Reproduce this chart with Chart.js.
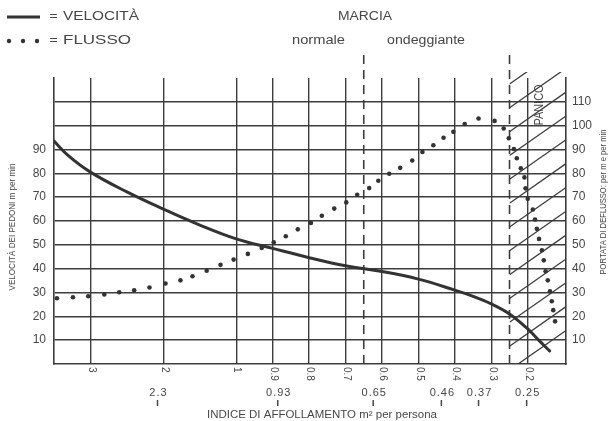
<!DOCTYPE html>
<html>
<head>
<meta charset="utf-8">
<script src="https://cdn.jsdelivr.net/npm/chart.js@4.4.1/dist/chart.umd.min.js"></script>
<style>
  html, body { margin: 0; padding: 0; background: #fff; }
</style>
</head>
<body>
<canvas id="chart" width="611" height="421"></canvas>
<script>
// asse x: indice di affollamento, m2 per persona
const xTicks = [3, 2, 1, 0.9, 0.8, 0.7, 0.6, 0.5, 0.4, 0.3, 0.2]
const xTickLabels = ['3', '2', '1', '0.9', '0.8', '0.7', '0.6', '0.5', '0.4', '0.3', '0.2']
const serviceLabels = ['2.3', '0.93', '0.65', '0.46', '0.37', '0.25']
const serviceAt = [2.08, 0.886, 0.624, 0.437, 0.335, 0.203]
const limitsAt = [0.65, 0.25] // tratteggi: normale / ondeggiante, panico
const leftTicks = [10, 20, 30, 40, 50, 60, 70, 80, 90]
const rightTicks = [10, 20, 30, 40, 50, 60, 70, 80, 90, 100, 110]

// velocita (linea continua)
const speedIndex = [3.5, 3.3, 3, 2.5, 2, 1.5, 1, 0.9, 0.8, 0.7, 0.6, 0.5, 0.4, 0.35, 0.3, 0.25, 0.2, 0.17, 0.14]
const speedValues = [93.5, 87.3, 80.5, 72.2, 65, 58.3, 52.5, 48.5, 44.6, 41.2, 38.8, 35.6, 31, 28.4, 25.2, 21, 14.7, 10, 5.5]

// flusso (punti)
const flowIndex = [3.46, 3.24, 3.03, 2.81, 2.605, 2.4, 2.19, 1.97, 1.765, 1.6, 1.405, 1.215, 1.035,
  0.968, 0.93, 0.897, 0.864, 0.831, 0.795, 0.765, 0.731, 0.698, 0.668, 0.635, 0.61, 0.58, 0.55,
  0.517, 0.489, 0.459, 0.431, 0.404, 0.373, 0.335, 0.291, 0.266, 0.252, 0.238, 0.23, 0.219,
  0.209, 0.206, 0.2, 0.186, 0.18, 0.175, 0.169, 0.161, 0.156, 0.151, 0.145, 0.139, 0.134, 0.13, 0.125]
const flowValues = [27.6, 28, 28.4, 29.2, 30.1, 30.9, 32.1, 33.8, 35.1, 36.8, 39.1, 41.6, 43.8,
  46.2, 48.7, 51.1, 53.6, 56.5, 59.2, 62.2, 65.2, 67.8, 71, 73.8, 76.9, 79.8, 82.3,
  85.4, 89, 91.8, 94.9, 97.4, 100.7, 103, 102, 98.8, 94.7, 90.2, 86.3, 82.1,
  78.3, 73.7, 69.3, 64.8, 60.6, 56.7, 52.5, 47.7, 43.5, 38.9, 35.1, 30.5, 26.3, 22.6, 17.9]

const INK = '#3d3d3d'
const TEXT = '#474747'
const FONT = '"Liberation Sans", Arial, sans-serif'

// scala a tratti: 1..3 compressa, 0.2..1 lineare
const toPos = v => v > 1 ? (1 - v) * 2 : (1 - v) * 10

function fitText(ctx, text, x, y, width, size, rot, align) {
  ctx.save()
  ctx.font = `${size}px ${FONT}`
  const w = ctx.measureText(text).width
  ctx.translate(x, y)
  if (rot) ctx.rotate(rot)
  ctx.scale(width / w, 1)
  ctx.textAlign = align || 'center'
  ctx.textBaseline = 'middle'
  ctx.fillText(text, 0, 0)
  ctx.restore()
}

const decor = {
  id: 'decor',
  beforeDatasetsDraw(chart) {
    const { ctx, chartArea: a, scales: { x, y } } = chart
    const xl = x.getPixelForValue(toPos(limitsAt[1]))

    // tratteggio zona panico
    ctx.save()
    ctx.beginPath()
    ctx.rect(xl, a.top - 6, a.right - xl, a.bottom - a.top + 6)
    ctx.clip()
    ctx.strokeStyle = INK
    ctx.lineWidth = 1.3
    for (let v = 0; v <= 150; v += 10) {
      const y0 = y.getPixelForValue(v) + 6
      ctx.beginPath()
      ctx.moveTo(xl, y0)
      ctx.lineTo(a.right + 2, y0 - 0.7 * (a.right + 2 - xl))
      ctx.stroke()
    }
    ctx.restore()

    // linee tratteggiate
    ctx.save()
    ctx.strokeStyle = INK
    ctx.lineWidth = 1.6
    ctx.setLineDash([9, 6])
    limitsAt.forEach(v => {
      const px = x.getPixelForValue(toPos(v))
      ctx.beginPath()
      ctx.moveTo(px, 55)
      ctx.lineTo(px, a.bottom)
      ctx.stroke()
    })
    ctx.restore()

    // PANICO
    ctx.save()
    ctx.fillStyle = TEXT
    fitText(ctx, 'PANICO', 540, 105, 41, 12, -Math.PI / 2)
    ctx.restore()
  },
  afterDraw(chart) {
    const { ctx, chartArea: a, scales: { x } } = chart
    ctx.save()
    ctx.fillStyle = TEXT
    ctx.strokeStyle = TEXT

    // etichette asse x ruotate
    ctx.font = `10px ${FONT}`
    ctx.textAlign = 'left'
    ctx.textBaseline = 'middle'
    xTicks.forEach((v, i) => {
      const px = x.getPixelForValue(toPos(v))
      ctx.save()
      ctx.translate(px + 1, a.bottom + 3)
      ctx.rotate(Math.PI / 2)
      ctx.fillText(xTickLabels[i], 0, 0)
      ctx.restore()
    })

    // seconda riga
    ctx.font = `11px ${FONT}`
    ctx.letterSpacing = '1px'
    ctx.textAlign = 'center'
    ctx.lineWidth = 1.5
    serviceAt.forEach((v, i) => {
      const px = x.getPixelForValue(toPos(v))
      ctx.fillText(serviceLabels[i], px + 1, 393)
      ctx.beginPath()
      ctx.moveTo(px, 400)
      ctx.lineTo(px, 406)
      ctx.stroke()
    })
    ctx.letterSpacing = '0px'

    fitText(ctx, 'INDICE DI AFFOLLAMENTO m² per persona', 322, 415, 230, 10)
    fitText(ctx, 'VELOCITÀ DEI PEDONI m per min', 12.5, 227, 127, 9, -Math.PI / 2)
    fitText(ctx, 'PORTATA DI DEFLUSSO: per m e per min', 604, 202, 145, 9, -Math.PI / 2)

    // legenda
    ctx.strokeStyle = '#333'
    ctx.lineWidth = 3
    ctx.beginPath()
    ctx.moveTo(7, 17)
    ctx.lineTo(40, 17)
    ctx.stroke()
    ctx.fillStyle = '#333';
    [9, 23, 37].forEach(cx => {
      ctx.beginPath()
      ctx.arc(cx, 41, 2.2, 0, Math.PI * 2)
      ctx.fill()
    })
    ctx.fillStyle = TEXT
    fitText(ctx, '=', 53.5, 17, 8, 12)
    fitText(ctx, '=', 53.5, 41, 8, 12)
    fitText(ctx, 'VELOCITÀ', 63, 17, 76, 12, 0, 'left')
    fitText(ctx, 'FLUSSO', 63, 41, 68, 12, 0, 'left')

    fitText(ctx, 'MARCIA', 365, 17, 54, 12)
    fitText(ctx, 'normale', 318.5, 41, 53, 12)
    fitText(ctx, 'ondeggiante', 426, 41, 78, 12)
    ctx.restore()
  }
}

const speedData = speedIndex.map((v, i) => ({ x: toPos(v), y: speedValues[i] }))
const flowData = flowIndex.map((v, i) => ({ x: toPos(v), y: flowValues[i] }))

new Chart(document.getElementById('chart'), {
  type: 'line',
  data: {
    datasets: [{
      label: 'VELOCITÀ',
      data: speedData,
      borderColor: '#333',
      borderWidth: 3,
      borderCapStyle: 'round',
      pointRadius: 0,
      tension: 0.4,
      yAxisID: 'y'
    }, {
      label: 'FLUSSO',
      data: flowData,
      showLine: false,
      pointRadius: 2.3,
      pointBackgroundColor: '#333',
      pointBorderWidth: 0,
      yAxisID: 'y'
    }]
  },
  options: {
    responsive: false,
    animation: false,
    layout: { padding: { top: 78, left: 0, right: 0, bottom: 0 } },
    plugins: { legend: { display: false }, tooltip: { enabled: false } },
    scales: {
      x: {
        type: 'linear',
        min: -5,
        max: 9.05,
        afterBuildTicks: s => { s.ticks = xTicks.map(v => ({ value: toPos(v) })) },
        afterFit: s => { s.height = 57 },
        ticks: { display: false },
        grid: { color: INK, lineWidth: 1.4, drawTicks: false },
        border: { display: true, color: INK, width: 1.6 }
      },
      y: {
        min: 0,
        max: 120,
        afterFit: s => { s.width = 54 },
        ticks: {
          stepSize: 10,
          padding: 8,
          color: TEXT,
          font: { family: FONT, size: 12 },
          callback: v => leftTicks.includes(v) ? v : ''
        },
        grid: {
          color: c => (c.tick.value === 0 || c.tick.value === 120) ? 'rgba(0,0,0,0)' : INK,
          lineWidth: 1.4,
          drawTicks: false
        },
        border: { display: true, color: INK, width: 1.6 }
      },
      y2: {
        position: 'right',
        min: 0,
        max: 120,
        afterFit: s => { s.width = 45 },
        ticks: {
          stepSize: 10,
          padding: 6,
          color: TEXT,
          font: { family: FONT, size: 12 },
          callback: v => rightTicks.includes(v) ? v : ''
        },
        grid: { drawOnChartArea: false, drawTicks: false },
        border: { display: true, color: INK, width: 1.6 }
      }
    }
  },
  plugins: [decor]
})
</script>
</body>
</html>
